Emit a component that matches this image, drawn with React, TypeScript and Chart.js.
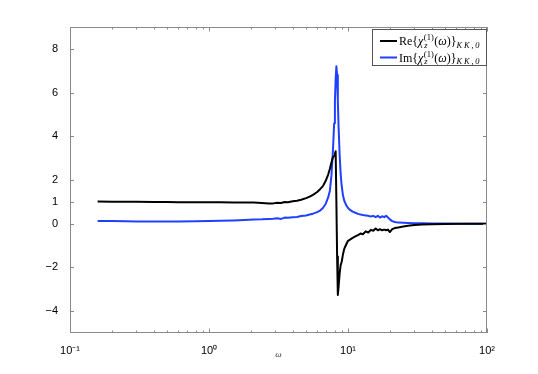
import React, { useEffect, useRef } from 'react';
import { Chart, registerables } from 'chart.js';

Chart.register(...registerables);

const omega = [
  0.158, 0.2, 0.25, 0.3, 0.4, 0.5, 0.6, 0.8, 1.0, 1.2, 1.5, 1.8, 2.1, 2.4, 2.7, 2.9, 3.1, 3.3, 3.5, 3.7,
  4.0, 4.3, 4.6, 5.0, 5.3, 5.6, 6.0, 6.3, 6.6, 6.9, 7.2, 7.4, 7.6, 7.8, 7.95, 8.05, 8.15, 8.25, 8.35, 8.45,
  8.55, 8.7, 8.85, 9.0, 9.2, 9.4, 9.7, 10.0, 10.4, 10.8, 11.3, 11.8, 12.3, 12.8, 13.4, 14.0, 14.6, 15.2, 15.8, 16.4,
  17.0, 17.6, 18.2, 18.8, 19.4, 20.0, 20.8, 21.7, 23, 25, 27, 30, 34, 40, 50, 65, 80, 100,
];

const reChi = [
  1.02, 1.01, 1.0, 1.0, 0.99, 0.99, 0.98, 0.98, 0.98, 0.98, 0.97, 0.97, 0.97, 0.95, 0.92, 0.93, 0.96, 0.95, 0.99, 0.98,
  1.03, 1.05, 1.1, 1.17, 1.24, 1.32, 1.45, 1.58, 1.72, 1.95, 2.25, 2.5, 2.8, 3.05, 3.1, 3.2, 3.32, 1.0, -1.5, -3.26,
  -2.9, -2.3, -1.9, -1.75, -1.4, -1.15, -0.95, -0.78, -0.72, -0.65, -0.58, -0.52, -0.45, -0.48, -0.35, -0.4, -0.28, -0.32, -0.22, -0.3,
  -0.25, -0.3, -0.27, -0.3, -0.27, -0.38, -0.25, -0.2, -0.17, -0.13, -0.09, -0.06, -0.04, -0.02, -0.01, 0, 0, 0,
];

const imChi = [
  0.12, 0.12, 0.11, 0.1, 0.1, 0.1, 0.1, 0.11, 0.12, 0.13, 0.15, 0.17, 0.19, 0.2, 0.22, 0.23, 0.25, 0.22, 0.28, 0.27,
  0.3, 0.31, 0.35, 0.38, 0.42, 0.46, 0.53, 0.6, 0.72, 0.9, 1.2, 1.5, 2.2, 3.4, 4.6, 5.6, 6.6, 7.2, 6.8, 5.6,
  4.5, 3.2, 2.3, 1.75, 1.3, 1.05, 0.85, 0.72, 0.62, 0.55, 0.5, 0.45, 0.42, 0.4, 0.38, 0.36, 0.33, 0.36, 0.3, 0.36,
  0.28, 0.34, 0.3, 0.36, 0.28, 0.2, 0.12, 0.08, 0.05, 0.04, 0.03, 0.02, 0.02, 0.01, 0.01, 0, 0, 0,
];

const yTicks = [-4, -2, 0, 1, 2, 4, 6, 8];
const xTicks = [0.1, 1, 10, 100];
const xTickLabels = ['10\u207B\u00B9', '10\u2070', '10\u00B9', '10\u00B2'];
const seriesPrefixes = ['Re', 'Im'];
const seriesColors = ['#000000', '#2040ff'];
const xAxisTitle = '\u03C9';

const FRAME = '#8a8a8a';

function drawRich(ctx: CanvasRenderingContext2D, x: number, y: number, prefix: string) {
  const base = "12px 'Liberation Serif'";
  const it = "italic 12px 'Liberation Serif'";
  const small = "8.5px 'Liberation Serif'";
  const smallIt = "italic 8.5px 'Liberation Serif'";
  let cx = x;
  const put = (t: string, f: string, dy = 0) => {
    ctx.font = f;
    ctx.fillText(t, cx, y + dy);
    cx += ctx.measureText(t).width;
  };
  put(prefix + '{', base);
  put('\u03C7', it);
  ctx.font = small;
  const w1 = ctx.measureText('(1)').width;
  ctx.fillText('(1)', cx + 0.5, y - 5);
  ctx.font = smallIt;
  const w2 = ctx.measureText('z').width;
  ctx.fillText('z', cx + 1, y + 2.5);
  cx += Math.max(w1, w2) + 1;
  put('(', base);
  put('\u03C9', it);
  put(')}', base);
  ctx.font = smallIt;
  const subs = ['K', 'K', ',', '0'];
  for (const s of subs) {
    ctx.fillText(s, cx, y + 2.5);
    cx += ctx.measureText(s).width + 1.8;
  }
}

const decorPlugin = {
  id: 'decor',
  afterDraw(chart: any) {
    const { ctx, chartArea } = chart;
    const { left, right, top, bottom } = chartArea;
    const xs = chart.scales.x;
    const ys = chart.scales.y;
    ctx.save();
    ctx.strokeStyle = FRAME;
    ctx.lineWidth = 1;
    ctx.strokeRect(Math.round(left) + 0.5, Math.round(top) + 0.5, Math.round(right - left) - 1, Math.round(bottom - top) - 1);
    ctx.beginPath();
    for (const v of yTicks) {
      const py = Math.round(ys.getPixelForValue(v)) + 0.5;
      ctx.moveTo(left, py); ctx.lineTo(left + 4, py);
      ctx.moveTo(right, py); ctx.lineTo(right - 4, py);
    }
    for (let d = 0; d < xTicks.length; d++) {
      const dec = xTicks[d];
      const px = Math.round(xs.getPixelForValue(dec)) + 0.5;
      ctx.moveTo(px, bottom); ctx.lineTo(px, bottom - 4.5);
      ctx.moveTo(px, top); ctx.lineTo(px, top + 4.5);
      if (d < xTicks.length - 1) {
        for (let m = 2; m <= 9; m++) {
          const mx = Math.round(xs.getPixelForValue(dec * m)) + 0.5;
          ctx.moveTo(mx, bottom); ctx.lineTo(mx, bottom - 2.5);
          ctx.moveTo(mx, top); ctx.lineTo(mx, top + 2.5);
        }
      }
    }
    ctx.stroke();

    // legend
    const bx = 372.5, by = 29.5, bw = 114, bh = 36;
    ctx.fillStyle = '#ffffff';
    ctx.fillRect(bx, by, bw, bh);
    ctx.strokeStyle = '#555555';
    ctx.strokeRect(bx, by, bw, bh);
    ctx.textBaseline = 'alphabetic';
    ctx.textAlign = 'left';
    for (let i = 0; i < seriesPrefixes.length; i++) {
      const ly = 41 + i * 16.5;
      ctx.strokeStyle = seriesColors[i];
      ctx.lineWidth = 2;
      ctx.beginPath();
      ctx.moveTo(380, ly); ctx.lineTo(397, ly);
      ctx.stroke();
      ctx.fillStyle = '#000';
      drawRich(ctx, 399, ly + 4, seriesPrefixes[i]);
    }

    // x title
    ctx.fillStyle = '#333';
    ctx.font = "italic 9px 'Liberation Serif'";
    ctx.textAlign = 'center';
    ctx.fillText(xAxisTitle, (left + right) / 2, 357);
    ctx.restore();
  },
};

export default function App() {
  const ref = useRef<HTMLCanvasElement>(null);
  useEffect(() => {
    if (!ref.current) return;
    const chart = new Chart(ref.current, {
      type: 'line',
      data: {
        datasets: [
          {
            label: 'Re',
            data: omega.map((x, i) => ({ x, y: reChi[i] })),
            borderColor: seriesColors[0],
            borderWidth: 2,
            borderJoinStyle: 'round',
            pointRadius: 0,
            tension: 0,
          },
          {
            label: 'Im',
            data: omega.map((x, i) => ({ x, y: imChi[i] })),
            borderColor: seriesColors[1],
            borderWidth: 2,
            borderJoinStyle: 'round',
            pointRadius: 0,
            tension: 0,
          },
        ],
      },
      options: {
        animation: false,
        responsive: false,
        layout: { padding: { top: 27, right: 51, left: 0, bottom: 0 } },
        plugins: { legend: { display: false }, tooltip: { enabled: false } },
        scales: {
          x: {
            type: 'logarithmic',
            min: 0.1,
            max: 100,
            afterFit: (s: any) => { s.height = 41; },
            afterBuildTicks: (s: any) => { s.ticks = xTicks.map((v) => ({ value: v })); },
            grid: { display: false },
            border: { display: false },
            ticks: {
              autoSkip: false,
              maxRotation: 0,
              padding: 3,
              color: '#000',
              font: { family: "'Liberation Sans', Arial, sans-serif", size: 11 },
              callback: (v: any) => {
                const i = xTicks.findIndex((t) => Math.abs(t - Number(v)) < 1e-9 * Math.max(1, t));
                return i >= 0 ? xTickLabels[i] : '';
              },
            },
          },
          y: {
            type: 'linear',
            min: -5,
            max: 9,
            afterFit: (s: any) => { s.width = 70; },
            afterBuildTicks: (s: any) => { s.ticks = yTicks.map((v) => ({ value: v })); },
            grid: { display: false },
            border: { display: false },
            ticks: {
              padding: 4,
              color: '#000',
              font: { family: "'Liberation Sans', Arial, sans-serif", size: 11 },
              callback: (v: any) => (Number(v) < 0 ? '\u2212' + Math.abs(Number(v)) : String(v)),
            },
          },
        },
      },
      plugins: [decorPlugin],
    } as any);
    return () => chart.destroy();
  }, []);
  return (
    <div style={{ position: 'fixed', left: 0, top: 0, width: 538, height: 374, background: '#fff' }}>
      <canvas ref={ref} width={538} height={374} style={{ width: 538, height: 374 }} />
    </div>
  );
}
